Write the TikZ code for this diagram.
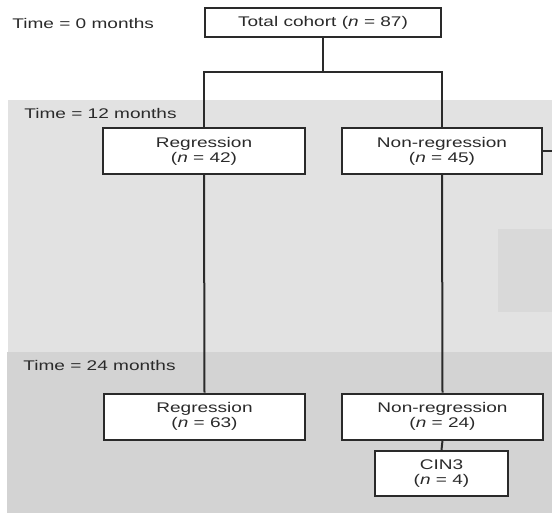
\documentclass[tikz,border=0pt]{standalone}
\usepackage{fontspec}
\setmainfont{Liberation Sans}
\usepackage{graphicx}
\usepackage{tikz}
\usetikzlibrary{positioning,calc}
\usepackage{xcolor}
\definecolor{fink}{HTML}{2A2A2A}
\definecolor{fband}{HTML}{E2E2E2}
\definecolor{fbandd}{HTML}{D3D3D3}
\definecolor{fpatch}{HTML}{D9D9D9}
% the source figure is set wide and low
\newcommand{\wt}[1]{\scalebox{1.36}[1]{#1}}
\newcommand{\boxfont}{\fontsize{7}{7.6}\selectfont}
\tikzset{
  cbox/.style    = {draw=fink, line width=1pt, fill=white, rectangle,
                    inner sep=0pt, minimum height=23pt, align=center,
                    text=fink},
  timelab/.style = {anchor=west, inner sep=0pt, text=fink},
  link/.style    = {draw=fink, line width=1pt},
}

\begin{document}
\begin{tikzpicture}[x=0.5pt,y=-0.5pt,font=\boxfont]
\useasboundingbox (0,0) rectangle (552,515);
% time bands
\fill[fband] (8,100) rectangle (552,352);
\fill[fpatch] (498,229) rectangle (552,312);
\fill[fbandd] (7,352) rectangle (552,513);
\node[timelab] (t0) at (12,23) {\wt{Time = 0 months}};
\node[timelab] (t12) at (24,113) {\wt{Time = 12 months}};
\node[timelab] (t24) at (23,365) {\wt{Time = 24 months}};
% boxes
\node[cbox,minimum width=118pt,minimum height=14.5pt] (total) at (323,22.5) {\wt{Total cohort (\textit{n} = 87)}};
\node[cbox,minimum width=101pt] (reg12) at (204,151) {\wt{Regression}\\\wt{(\textit{n} = 42)}};
\node[cbox,minimum width=100pt] (non12) at (442,151) {\wt{Non-regression}\\\wt{(\textit{n} = 45)}};
\node[cbox,minimum width=100.5pt] (reg24) at (204.5,416.5) {\wt{Regression}\\\wt{(\textit{n} = 63)}};
\node[cbox,minimum width=100.5pt] (non24) at (442.5,416.5) {\wt{Non-regression}\\\wt{(\textit{n} = 24)}};
\node[cbox,minimum width=66.5pt,minimum height=22.5pt] (cin3) at (441.5,473.5) {\wt{CIN3}\\\wt{(\textit{n} = 4)}};
% connectors
\coordinate (fork) at (323,72);
\coordinate (edge) at (552,151);
\draw[link] (total.south) -- (fork);
\draw[link] (reg12.north) |- (fork) -| (non12.north);
\draw[link] (reg12.south) -- (reg24.north);
\draw[link] (non12.south) -- (non24.north);
\draw[link] (non24.south) -- (cin3.north);
\draw[link] (non12.east) -- (edge);
\end{tikzpicture}
\end{document}
